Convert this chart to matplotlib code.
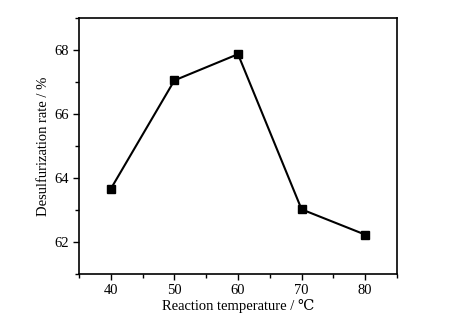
import matplotlib
matplotlib.use("Agg")
import matplotlib.pyplot as plt
from matplotlib.ticker import MultipleLocator

temperature = [40, 50, 60, 70, 80]
desulfurization_rate = [63.66, 67.05, 67.87, 63.02, 62.23]

plt.rcParams['font.family'] = ['Liberation Serif', 'DejaVu Serif']

fig = plt.figure(figsize=(4.57, 3.27), dpi=100)
ax = fig.add_axes([79/457, 1 - 274/327, (397-79)/457, (274-18)/327])

ax.plot(temperature, desulfurization_rate, color='black', linewidth=1.5,
        marker='s', markersize=5.5, markerfacecolor='black')

ax.set_xlim(35, 85)
ax.set_ylim(61, 69)
ax.xaxis.set_major_locator(MultipleLocator(10))
ax.xaxis.set_minor_locator(MultipleLocator(5))
ax.yaxis.set_major_locator(MultipleLocator(2))
ax.yaxis.set_minor_locator(MultipleLocator(1))
ax.tick_params(which='both', direction='out', top=False, right=False,
               labelsize=10.5, width=1.0)
ax.tick_params(which='major', length=4)
ax.tick_params(which='minor', length=3)
for s in ax.spines.values():
    s.set_linewidth(1.2)

ax.set_xlabel('Reaction temperature / \u2103', fontsize=10.5, labelpad=1)
ax.set_ylabel('Desulfurization rate / %', fontsize=10.5, labelpad=3)

fig.savefig('out.png', dpi=100)
